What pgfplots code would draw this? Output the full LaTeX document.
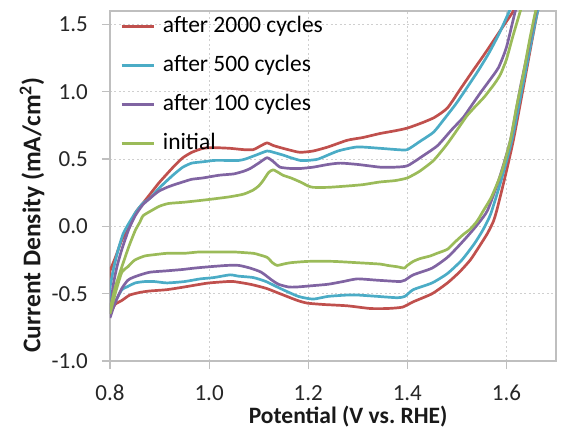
\documentclass[border=0pt]{standalone}
\usepackage{pgfplots}
\pgfplotsset{compat=1.18}
\usepackage{fontspec}
\setmainfont{Carlito}
\definecolor{cRed}{HTML}{C0504D}
\definecolor{cCyan}{HTML}{4BACC6}
\definecolor{cPurple}{HTML}{8064A2}
\definecolor{cGreen}{HTML}{9BBB59}
\definecolor{axgray}{HTML}{BFBFBF}
\definecolor{gridgray}{HTML}{CFCFCF}
\begin{document}
\begin{tikzpicture}
\begin{axis}[
  scale only axis, width=446bp, height=350bp,
  xmin=0.8, xmax=1.7, ymin=-1.0, ymax=1.6,
  xtick={0.8,1.0,1.2,1.4,1.6}, xticklabels={0.8,1.0,1.2,1.4,1.6},
  ytick={-1,-0.5,0,0.5,1,1.5}, yticklabels={-1.0,-0.5,0.0,0.5,1.0,1.5},
  tick pos=left, tick align=outside, major tick length=8bp,
  tick style={axgray, line width=1.2bp},
  axis line style={axgray, line width=1.5bp},
  grid=major, major grid style={gridgray, dash pattern=on 2bp off 2.5bp, line width=1bp},
  /pgf/number format/assume math mode=true,
  ticklabel style={font=\fontsize{23bp}{26bp}\selectfont, text=black!85, inner sep=0pt},
  xticklabel style={anchor=north, yshift=-16bp},
  yticklabel style={anchor=east, xshift=-14bp},
  xlabel={Potential (V vs.\ RHE)},
  ylabel={Current Density (mA/cm\textsuperscript{2})},
  xlabel style={font=\bfseries\fontsize{23.5bp}{26bp}\selectfont, text=black!90,
    at={(axis description cs:0.534,0)}, anchor=base, yshift=-62bp, inner sep=0pt},
  ylabel style={font=\bfseries\fontsize{25.5bp}{28bp}\selectfont, text=black!90,
    at={(axis description cs:-0.175,0.417)}, anchor=center, inner sep=0pt},
  legend cell align=left,
  legend style={draw=none, fill=none, at={(axis description cs:0,1)}, anchor=north west,
    xshift=10bp, yshift=-5bp, inner sep=0pt, row sep=18bp, column sep=8bp,
    font=\fontsize{23.5bp}{26bp}\selectfont,
    nodes={inner sep=0pt, text height=16bp, text depth=5bp}},
  legend image code/.code={\draw[#1] (0bp,0bp) -- (32bp,0bp);},
  every axis plot/.append style={line width=2.7bp, line join=round, smooth, tension=0.35},
]
\addplot[cRed] coordinates {
(0.800,-0.33) (0.812,-0.22) (0.824,-0.10) (0.840,0.00) (0.851,0.10) (0.866,0.17) (0.881,0.24) (0.898,0.32) (0.915,0.39) (0.930,0.45) (0.947,0.51) (0.965,0.55) (0.988,0.58) (1.010,0.585) (1.042,0.58) (1.070,0.57) (1.089,0.57) (1.105,0.60) (1.117,0.62) (1.130,0.60) (1.149,0.58) (1.170,0.56) (1.184,0.55) (1.210,0.56) (1.240,0.59) (1.279,0.64) (1.310,0.66) (1.345,0.69) (1.375,0.71) (1.400,0.73) (1.430,0.77) (1.455,0.81) (1.481,0.88) (1.507,1.02) (1.533,1.16) (1.554,1.27) (1.574,1.38) (1.594,1.49) (1.614,1.60) (1.630,1.72)
(1.672,1.72) (1.663,1.60) (1.650,1.35) (1.635,1.05) (1.614,0.64) (1.598,0.38) (1.582,0.14) (1.574,0.04) (1.562,-0.05) (1.545,-0.15) (1.527,-0.25) (1.505,-0.34) (1.481,-0.42) (1.450,-0.50) (1.412,-0.56) (1.390,-0.60) (1.360,-0.61) (1.325,-0.61) (1.279,-0.59) (1.230,-0.58) (1.198,-0.57) (1.178,-0.55) (1.143,-0.50) (1.115,-0.46) (1.083,-0.43) (1.050,-0.41) (1.036,-0.41) (1.000,-0.42) (0.982,-0.43) (0.950,-0.45) (0.915,-0.47) (0.880,-0.48) (0.861,-0.49) (0.840,-0.51) (0.824,-0.55) (0.810,-0.58) (0.800,-0.64) (0.800,-0.33)
};
\addlegendentry{after 2000 cycles}
\addplot[cCyan] coordinates {
(0.800,-0.45) (0.808,-0.30) (0.816,-0.18) (0.826,-0.06) (0.836,0.01) (0.851,0.10) (0.866,0.17) (0.881,0.21) (0.898,0.28) (0.915,0.34) (0.930,0.39) (0.947,0.44) (0.965,0.47) (0.988,0.48) (1.010,0.49) (1.036,0.49) (1.060,0.49) (1.073,0.50) (1.095,0.53) (1.117,0.56) (1.130,0.55) (1.149,0.53) (1.165,0.51) (1.184,0.49) (1.198,0.49) (1.220,0.50) (1.260,0.56) (1.299,0.59) (1.345,0.58) (1.380,0.57) (1.400,0.57) (1.425,0.63) (1.453,0.70) (1.475,0.80) (1.500,0.92) (1.533,1.10) (1.547,1.18) (1.565,1.29) (1.585,1.43) (1.606,1.60) (1.620,1.72)
(1.675,1.72) (1.663,1.60) (1.648,1.33) (1.632,1.03) (1.611,0.64) (1.590,0.35) (1.568,0.09) (1.552,-0.03) (1.535,-0.13) (1.510,-0.25) (1.481,-0.35) (1.450,-0.42) (1.412,-0.47) (1.395,-0.52) (1.380,-0.53) (1.340,-0.52) (1.300,-0.51) (1.279,-0.51) (1.240,-0.52) (1.210,-0.54) (1.180,-0.52) (1.143,-0.46) (1.115,-0.41) (1.089,-0.38) (1.060,-0.37) (1.042,-0.36) (1.010,-0.38) (0.982,-0.39) (0.950,-0.41) (0.915,-0.42) (0.890,-0.41) (0.870,-0.41) (0.851,-0.42) (0.834,-0.45) (0.824,-0.47) (0.812,-0.55) (0.800,-0.64) (0.800,-0.45)
};
\addlegendentry{after 500 cycles}
\addplot[cPurple] coordinates {
(0.800,-0.68) (0.806,-0.45) (0.814,-0.30) (0.824,-0.17) (0.838,-0.02) (0.851,0.08) (0.866,0.16) (0.881,0.21) (0.898,0.26) (0.915,0.29) (0.930,0.31) (0.947,0.33) (0.965,0.35) (0.988,0.36) (1.020,0.38) (1.050,0.39) (1.070,0.41) (1.083,0.43) (1.100,0.47) (1.117,0.51) (1.130,0.48) (1.143,0.44) (1.165,0.43) (1.184,0.43) (1.210,0.44) (1.240,0.46) (1.265,0.47) (1.300,0.46) (1.345,0.44) (1.375,0.44) (1.400,0.45) (1.430,0.52) (1.461,0.60) (1.490,0.72) (1.513,0.81) (1.530,0.90) (1.547,0.99) (1.565,1.08) (1.584,1.18) (1.600,1.33) (1.618,1.60) (1.630,1.72)
(1.672,1.72) (1.660,1.60) (1.645,1.33) (1.628,1.03) (1.608,0.64) (1.585,0.35) (1.562,0.12) (1.545,0.03) (1.527,-0.05) (1.505,-0.14) (1.481,-0.23) (1.450,-0.31) (1.412,-0.36) (1.395,-0.40) (1.386,-0.41) (1.340,-0.40) (1.299,-0.39) (1.270,-0.41) (1.240,-0.43) (1.210,-0.44) (1.178,-0.45) (1.160,-0.45) (1.140,-0.43) (1.127,-0.40) (1.105,-0.34) (1.083,-0.31) (1.060,-0.29) (1.036,-0.29) (1.000,-0.30) (0.970,-0.31) (0.947,-0.32) (0.915,-0.33) (0.881,-0.34) (0.861,-0.36) (0.846,-0.38) (0.836,-0.40) (0.824,-0.46) (0.810,-0.57) (0.800,-0.68)
};
\addlegendentry{after 100 cycles}
\addplot[cGreen] coordinates {
(0.800,-0.62) (0.810,-0.46) (0.824,-0.30) (0.838,-0.15) (0.851,-0.03) (0.860,0.03) (0.867,0.08) (0.885,0.12) (0.900,0.15) (0.918,0.17) (0.951,0.18) (1.000,0.20) (1.042,0.22) (1.070,0.24) (1.089,0.27) (1.100,0.30) (1.109,0.34) (1.120,0.40) (1.129,0.42) (1.140,0.40) (1.149,0.38) (1.165,0.36) (1.184,0.33) (1.200,0.30) (1.210,0.29) (1.240,0.29) (1.279,0.30) (1.310,0.31) (1.345,0.33) (1.375,0.34) (1.400,0.36) (1.425,0.41) (1.453,0.49) (1.480,0.61) (1.503,0.73) (1.520,0.82) (1.537,0.89) (1.555,0.96) (1.576,1.06) (1.588,1.13) (1.600,1.24) (1.612,1.40) (1.628,1.60) (1.640,1.75)
(1.672,1.75) (1.659,1.60) (1.646,1.37) (1.634,1.13) (1.620,0.88) (1.608,0.64) (1.590,0.40) (1.570,0.22) (1.554,0.12) (1.541,0.04) (1.527,-0.02) (1.513,-0.06) (1.495,-0.12) (1.481,-0.17) (1.460,-0.20) (1.446,-0.22) (1.425,-0.24) (1.412,-0.26) (1.400,-0.29) (1.394,-0.31) (1.380,-0.30) (1.360,-0.29) (1.345,-0.28) (1.300,-0.27) (1.250,-0.26) (1.200,-0.26) (1.164,-0.27) (1.150,-0.28) (1.137,-0.29) (1.128,-0.27) (1.117,-0.23) (1.100,-0.21) (1.089,-0.20) (1.050,-0.19) (1.020,-0.19) (0.980,-0.19) (0.950,-0.20) (0.915,-0.20) (0.890,-0.21) (0.870,-0.22) (0.850,-0.25) (0.836,-0.30) (0.824,-0.34) (0.812,-0.48) (0.800,-0.65)
};
\addlegendentry{initial}
\end{axis}
\path (current axis.south west) ++(-110bp,-72bp) rectangle ++(571bp,433bp);
\end{tikzpicture}
\end{document}
